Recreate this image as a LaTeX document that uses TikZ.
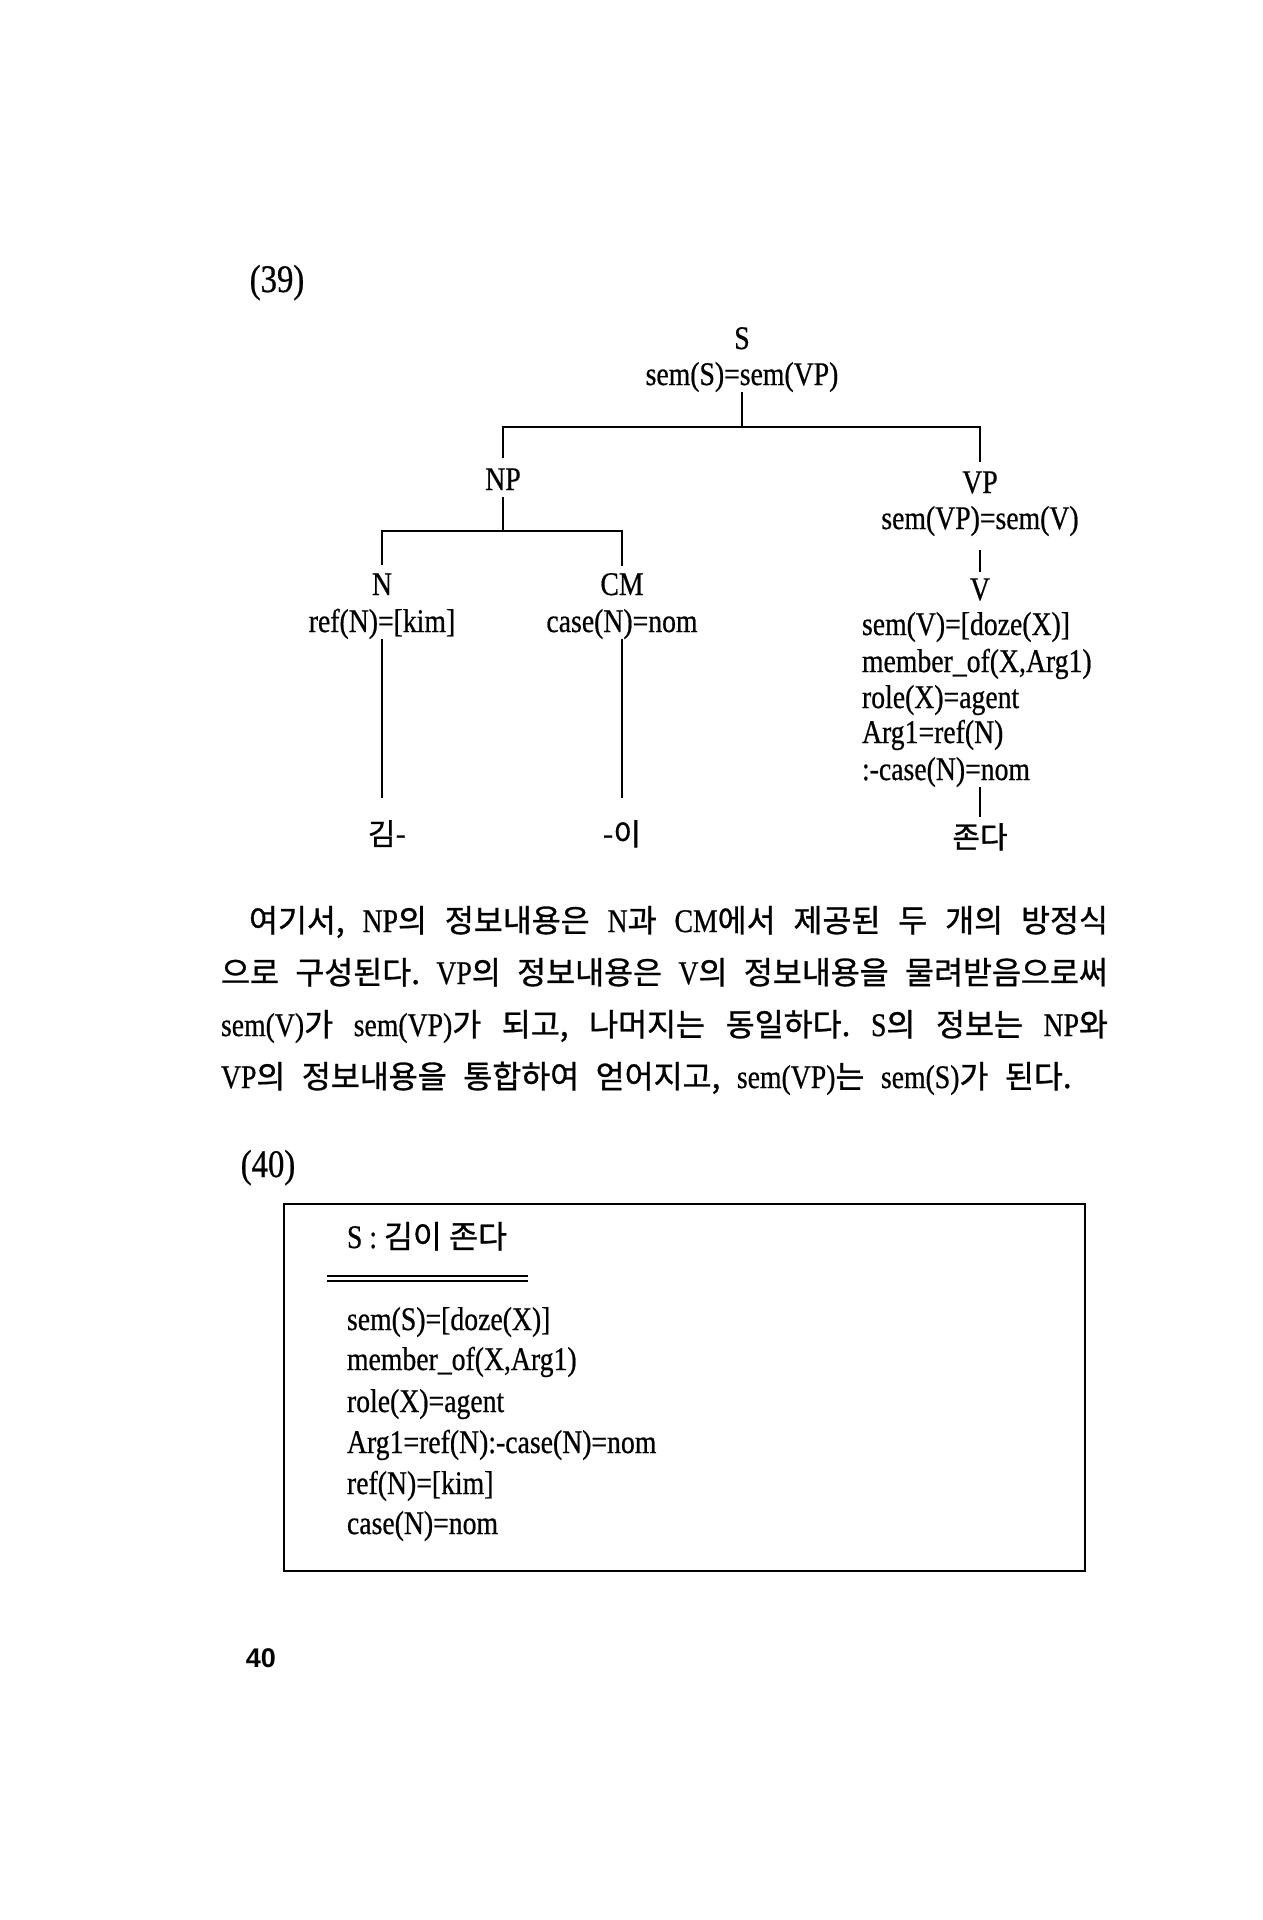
\documentclass[tikz,border=0pt]{standalone}
\usepackage{fontspec}
\setmainfont{Liberation Serif}[FakeStretch=0.84, FakeBold=0.6]
\newfontfamily\kr{Noto Sans CJK KR}[FakeBold=1]
\newfontfamily\pgnum{Liberation Sans}
\usetikzlibrary{calc}
\newcommand\K[1]{{\kr\fontsize{31.5}{38}\selectfont #1}}
\newcommand\wsp{\spaceskip=16.5pt plus 14pt minus 5pt\relax}
\begin{document}
\begin{tikzpicture}[x=1pt,y=-1pt,
  tx/.style={inner sep=0pt, outer sep=0pt, font=\fontsize{33}{38}\selectfont, text height=21pt, text depth=7pt},
  kt/.style={tx, font=\kr\fontsize{30}{36}\selectfont},
  lab/.style={inner sep=0pt, outer sep=0pt, font=\fontsize{39}{42}\selectfont, anchor=base},
  pl/.style={inner sep=0pt, outer sep=0pt, font=\frenchspacing\fontsize{33}{38}\selectfont, anchor=base west},
  br/.style={line width=1.8pt}]
\useasboundingbox (0,0) rectangle (1263,1920);
\fill[white] (0,0) rectangle (1263,1920);

% ---------- (39) tree ----------
\node[lab] (lab39) at (277,292) {(39)};

\node[tx,anchor=base] (S) at (742,349) {S};
\node[tx,anchor=base] (Ssem) at (742,385) {sem(S)=sem(VP)};
\node[tx,anchor=base] (NP) at (503,490) {NP};
\node[tx,anchor=base] (VP) at (980,493) {VP};
\node[tx,anchor=base] (VPsem) at (980,529) {sem(VP)=sem(V)};
\node[tx,anchor=base] (V) at (980,600) {V};
\node[tx,anchor=base west] (v1) at (862,635) {sem(V)=[doze(X)]};
\node[tx,anchor=base west] (v2) at (862,672) {member\_of(X,Arg1)};
\node[tx,anchor=base west] (v3) at (862,708) {role(X)=agent};
\node[tx,anchor=base west] (v4) at (862,743) {Arg1=ref(N)};
\node[tx,anchor=base west] (v5) at (862,780) {:-case(N)=nom};
\node[kt,anchor=base] (jonda) at (980,848) {존다};

\node[tx,anchor=base] (N) at (382,595) {N};
\node[tx,anchor=base] (refN) at (382,632) {ref(N)=[kim]};
\node[tx,anchor=base] (CM) at (622,595) {CM};
\node[tx,anchor=base] (caseN) at (622,632) {case(N)=nom};
\node[kt,anchor=base] (kim) at (387,845) {김-};
\node[kt,anchor=base] (yi) at (622,845) {-이};

\coordinate (bar1) at (742,427);
\coordinate (bar2) at (503,531);

\draw[br] (Ssem.south) -- (Ssem.south |- bar1);
\draw[br] ($(NP.north)+(0,-11)$) |- (bar1) -| ($(VP.north)+(0,-10)$);
\draw[br] (NP.south) -- (NP.south |- bar2);
\draw[br] ($(N.north)+(0,-9)$) |- (bar2) -| ($(CM.north)+(0,-8)$);
\draw[br, shorten >=26pt] (refN.south) -- (refN.south |- kim.north);
\draw[br, shorten >=26pt] (caseN.south) -- (caseN.south |- yi.north);
\draw[br, shorten <=14pt, shorten >=7pt] (VPsem.south) -- (V.north);
\draw[br, shorten >=10pt] (V |- v5.south) -- (jonda.north);

% ---------- paragraph ----------
\node[pl] (p1) at (249,932) {\wsp\makebox[859pt][s]{\K{\wsp 여기서,} NP\K{\wsp 의 정보내용은} N\K{과} CM\K{\wsp 에서 제공된 두 개의 방정식}}};
\node[pl] (p2) at (221,984) {\wsp\makebox[887pt][s]{\K{\wsp 으로 구성된다.} VP\K{\wsp 의 정보내용은} V\K{\wsp 의 정보내용을 물려받음으로써}}};
\node[pl] (p3) at (221,1036) {\wsp\makebox[887pt][s]{sem(V)\K{가} sem(VP)\K{\wsp 가 되고, 나머지는 동일하다.} S\K{\wsp 의 정보는} NP\K{와}}};
\node[pl] (p4) at (221,1088) {\wsp VP\K{\wsp 의 정보내용을 통합하여 얻어지고,} sem(VP)\K{는} sem(S)\K{\wsp 가 된다.}};

% ---------- (40) box ----------
\node[lab] (lab40) at (268,1177) {(40)};
\node[draw, line width=2pt, inner sep=0pt, minimum width=801pt, minimum height=367pt, anchor=north west] (box) at (283,1203) {};
\node[pl] (title) at (347,1248) {S : \K{김이 존다}};
\coordinate (dl1) at (327,1276);
\coordinate (dl2) at (528,1276);
\coordinate (dl3) at (327,1281);
\coordinate (dl4) at (528,1281);
\draw[line width=2pt] (dl1) -- (dl2);
\draw[line width=2pt] (dl3) -- (dl4);
\node[pl] (b1) at (347,1330) {sem(S)=[doze(X)]};
\node[pl] (b2) at (347,1370) {member\_of(X,Arg1)};
\node[pl] (b3) at (347,1412) {role(X)=agent};
\node[pl] (b4) at (347,1453) {Arg1=ref(N):-case(N)=nom};
\node[pl] (b5) at (347,1494) {ref(N)=[kim]};
\node[pl] (b6) at (347,1534) {case(N)=nom};

% ---------- page number ----------
\node[inner sep=0pt, font=\pgnum\bfseries\fontsize{27}{30}\selectfont, anchor=base] (pg) at (261,1667) {40};
\end{tikzpicture}
\end{document}
